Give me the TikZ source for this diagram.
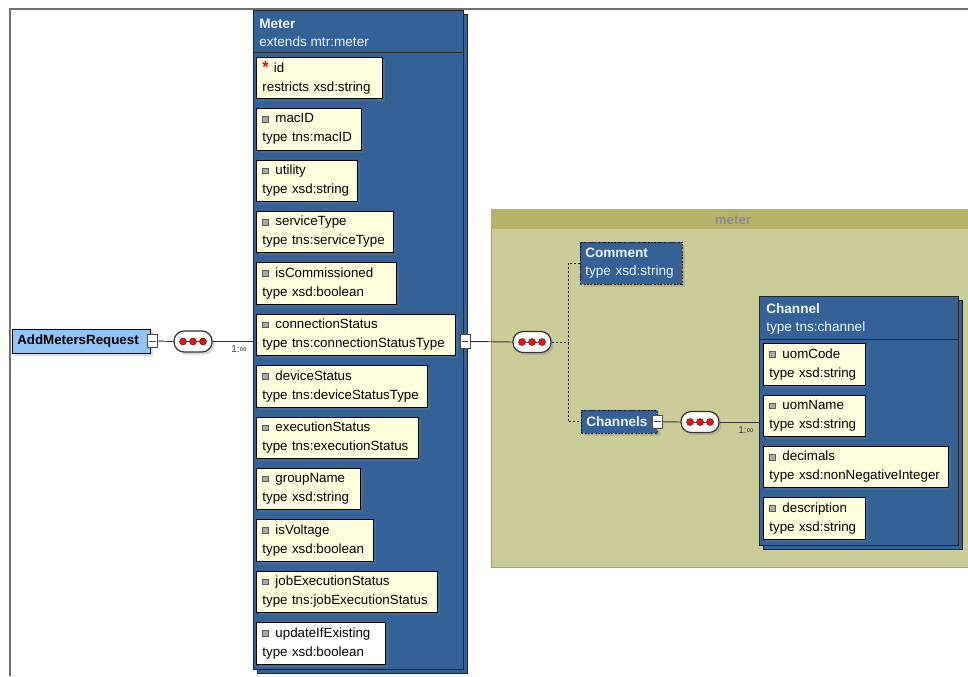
\documentclass[tikz,border=0pt]{standalone}
\usepackage{fontspec}
\setmainfont{Liberation Sans}
\usepackage{tikz}
\usetikzlibrary{shadows}

\definecolor{boxblue}{RGB}{52,98,150}
\definecolor{elemfill}{RGB}{255,255,221}
\definecolor{reqblue}{RGB}{146,196,245}
\definecolor{groupbody}{RGB}{204,204,153}
\definecolor{grouphead}{RGB}{181,179,106}
\definecolor{groupedge}{RGB}{165,163,95}
\definecolor{framegray}{RGB}{112,112,112}
\definecolor{headwhite}{RGB}{238,243,248}
\definecolor{iconedge}{RGB}{90,90,90}
\definecolor{iconfill}{RGB}{170,170,170}
\definecolor{dotred}{RGB}{228,22,22}

\newcommand{\attricon}{\raisebox{1pt}{\setlength{\fboxsep}{0pt}\setlength{\fboxrule}{0.6pt}\fcolorbox{iconedge}{iconfill}{\rule{0pt}{3.6pt}\hspace{3.6pt}}}\hspace{5pt}}
\newcommand{\reqmark}{\textcolor{red}{\fontsize{12pt}{12pt}\selectfont\bfseries *}\hspace{4pt}}

\tikzset{
  elem/.style={draw=black, fill=elemfill, anchor=north west, align=left,
    text width=#1, inner xsep=4.5pt, inner ysep=0pt, minimum height=31.1pt,
    font=\fontsize{10pt}{14.25pt}\selectfont, line width=0.6pt,
    drop shadow={shadow xshift=2pt, shadow yshift=-2pt, opacity=0.3}},
  container/.style={draw=black!85, fill=boxblue, anchor=north west, line width=0.7pt,
    inner sep=0pt, general shadow={shadow xshift=3pt, shadow yshift=-3pt, fill=boxblue, draw=black!85}},
  headtext/.style={anchor=west, align=left, text=headwhite, inner sep=0pt,
    font=\fontsize{10.2pt}{13.5pt}\selectfont},
  sepline/.style={black!85, line width=0.7pt},
  reqbox/.style={draw=black, fill=reqblue, anchor=west, minimum height=18pt,
    text width=96pt, inner xsep=3.75pt, font=\fontsize{10pt}{12pt}\selectfont\bfseries,
    drop shadow={shadow xshift=2pt, shadow yshift=-2pt, opacity=0.3}},
  optbox/.style={draw=black, dash pattern=on 1.5pt off 1pt, fill=boxblue, anchor=north west,
    text=headwhite, align=left, inner xsep=3.75pt, inner ysep=0pt,
    font=\fontsize{10.2pt}{13.5pt}\selectfont,
    drop shadow={shadow xshift=2pt, shadow yshift=-2pt, opacity=0.3}},
  minus/.style={draw=black!70, fill=white, minimum width=7.5pt, minimum height=10pt, inner sep=0pt,
    line width=0.6pt,
    path picture={\draw[black!70, line width=0.7pt] ([xshift=-2.3pt]path picture bounding box.center) -- ([xshift=2.3pt]path picture bounding box.center);}},
  seq/.style={draw=black!80, fill=white, rounded corners=7.5pt, minimum width=28.5pt,
    minimum height=15.75pt, inner sep=0pt, line width=0.9pt,
    drop shadow={shadow xshift=2pt, shadow yshift=-2pt, opacity=0.3},
    path picture={
      \draw[black!70, line width=0.6pt] ([xshift=-7.5pt]path picture bounding box.center) -- ([xshift=7.5pt]path picture bounding box.center);
      \foreach \d in {-7.5,0,7.5}
        \draw[fill=dotred, draw=red!45!black, line width=0.4pt] ([xshift=\d pt]path picture bounding box.center) circle (2.6pt);}},
  conn/.style={black!80, line width=0.7pt},
  optline/.style={black!85, dash pattern=on 1.5pt off 1.5pt, line width=0.7pt},
  card/.style={font=\fontsize{7.5pt}{9pt}\selectfont, text=black!75, inner sep=0pt}
}

\begin{document}
\begin{tikzpicture}[x=0.75pt,y=0.75pt,yscale=-1,xscale=1]
  \useasboundingbox (0,0) rectangle (968,676);

  %Frame
  \draw[framegray, line width=1.5pt] (10,676) -- (10,9) -- (968,9);

  %Group: meter
  \node[draw=groupedge, fill=groupbody, anchor=north west, inner sep=0pt,
    minimum width=359.25pt, minimum height=268.5pt] (meterGroup) at (491,209) {};
  \fill[grouphead] (meterGroup.north west) rectangle (meterGroup.east |- 0,229);
  % Text Node
  \node[text=black!45, font=\fontsize{10pt}{12pt}\selectfont\bfseries, inner sep=0pt] (groupTitle) at (733,220) {meter};

  %Shape: Meter container
  \node[container, minimum width=157.5pt, minimum height=494.25pt] (meterbox) at (253,10) {};
  \node[headtext] (meterhead) at (259,33) {\textbf{Meter}\\extends~mtr:meter};
  \draw[sepline] (meterbox.west |- 0,52) -- (meterbox.east |- 0,52);

  %Meter children
  \node[elem=85.5pt] (id) at (256,56.7) {\reqmark id\\restricts~xsd:string};
  \node[elem=69.75pt] (macID) at (256,108.1) {\attricon macID\\type~tns:macID};
  \node[elem=66.75pt] (utility) at (256,159.5) {\attricon utility\\type~xsd:string};
  \node[elem=93.75pt] (serviceType) at (256,210.9) {\attricon serviceType\\type~tns:serviceType};
  \node[elem=96pt] (isCommissioned) at (256,262.3) {\attricon isCommissioned\\type~xsd:boolean};
  \node[elem=140.25pt] (connectionStatus) at (256,313.7) {\attricon connectionStatus\\type~tns:connectionStatusType};
  \node[elem=119.25pt] (deviceStatus) at (256,365.1) {\attricon deviceStatus\\type~tns:deviceStatusType};
  \node[elem=112.5pt] (executionStatus) at (256,416.5) {\attricon executionStatus\\type~tns:executionStatus};
  \node[elem=69pt] (groupName) at (256,467.9) {\attricon groupName\\type~xsd:string};
  \node[elem=78.75pt] (isVoltage) at (256,519.3) {\attricon isVoltage\\type~xsd:boolean};
  \node[elem=126.75pt] (jobExecutionStatus) at (256,570.7) {\attricon jobExecutionStatus\\type~tns:jobExecutionStatus};
  \node[elem=87.75pt, fill=white] (updateIfExisting) at (256,622.1) {\attricon updateIfExisting\\type~xsd:boolean};

  %Root element
  \node[reqbox] (req) at (12,341) {AddMetersRequest};
  \node[minus] (reqMinus) at ([xshift=1.5pt]req.east) {};
  \node[seq] (seqReq) at (193,341.5) {};
  \draw[conn] (reqMinus.east) -- (seqReq.west);
  \draw[conn] (seqReq.east) -- (seqReq.east -| meterbox.west);
  \node[card] (cardReq) at (239,349) {1:∞};

  %Sequence of meter group
  \node[minus] (conMinus) at (465,341.5) {};
  \node[seq] (seqMeter) at (532,342) {};
  \draw[conn] (conMinus.east) -- (seqMeter.west);
  \coordinate (fork) at (568,342);

  %Comment and Channels
  \node[optbox, minimum width=76.5pt, minimum height=31.5pt, text width=69pt] (comment) at (580,241.7)
    {\textbf{Comment}\\type~xsd:string};
  \node[optbox, minimum width=57pt, minimum height=17.25pt, text width=49.5pt] (channels) at (581,410)
    {\textbf{Channels}};
  \draw[optline] (seqMeter.east) -- (fork);
  \draw[optline] (comment.west) -| (fork) |- (channels.west);

  \node[minus] (chanMinus) at (channels.east) {};
  \node[seq] (seqChan) at (700,422) {};

  %Shape: Channel container
  \node[container, minimum width=149.25pt, minimum height=186.75pt] (channelbox) at (759,296) {};
  \node[headtext] (channelhead) at (766,318.5) {\textbf{Channel}\\type~tns:channel};
  \draw[sepline] (channelbox.west |- 0,339) -- (channelbox.east |- 0,339);

  \draw[conn] (chanMinus.east) -- (seqChan.west);
  \draw[conn] (seqChan.east) -- (seqChan.east -| channelbox.west);
  \node[card] (cardChan) at (746,430) {1:∞};

  %Channel children
  \node[elem=67.5pt] (uomCode) at (763,343.3) {\attricon uomCode\\type~xsd:string};
  \node[elem=67.5pt] (uomName) at (763,394.6) {\attricon uomName\\type~xsd:string};
  \node[elem=129.75pt] (decimals) at (763,445.9) {\attricon decimals\\type~xsd:nonNegativeInteger};
  \node[elem=67.5pt] (description) at (763,497.2) {\attricon description\\type~xsd:string};
\end{tikzpicture}
\end{document}
